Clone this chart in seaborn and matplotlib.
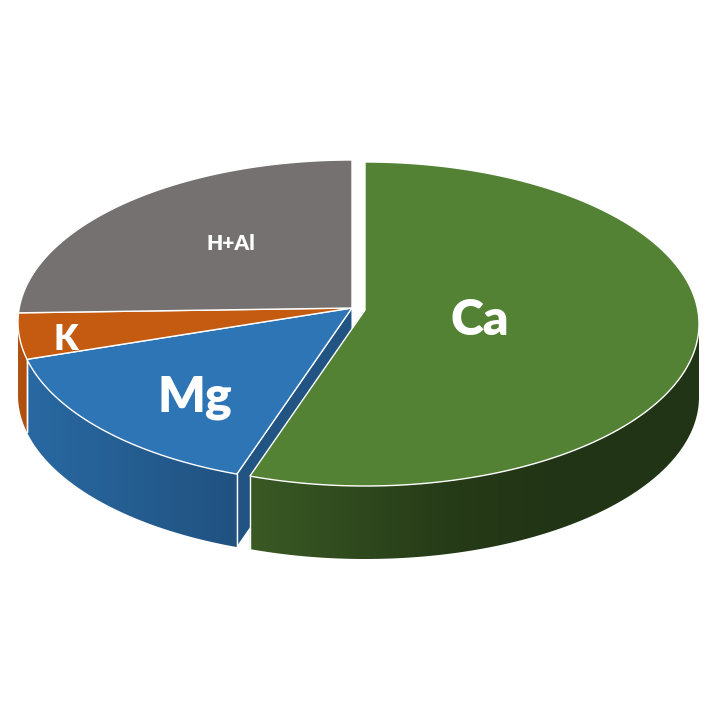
import numpy as np
import matplotlib
matplotlib.use("Agg")
import matplotlib.pyplot as plt
from matplotlib.patches import Polygon
import seaborn as sns

# ---- data ----
categories = ["Ca", "Mg", "K", "H+Al"]
values = [55.6, 15.7, 4.6, 24.1]
colors = ["#548235", "#2E75B6", "#C55A11", "#767171"]
exploded = [True, False, False, False]

# ---- style / layout ----
label_sizes = [36, 36, 25, 15]
label_frac = [0.35, 0.63, 0.86, 0.53]
label_dy = [-4, 13, 7, -10]

sns.set_theme(style="white")
plt.rcParams['font.family'] = ['Lato', 'DejaVu Sans']

fig = plt.figure(figsize=(7.22, 7.22), dpi=100)
ax = fig.add_axes([0, 0, 1, 1])

CX, CY, RX, RY = 352, 322, 334, 162
APEX_DY = -14
DEPTH = 73
EXPL = (13, 2)

fr = np.array(values) / sum(values)
ends = np.cumsum(fr) * 360
starts = np.concatenate([[0], ends[:-1]])


def rim(t, dx=0.0, dy=0.0):
    r = np.radians(t)
    return CX + dx + RX * np.sin(r), CY + dy - RY * np.cos(r)


def shade(x):
    return np.interp(x, [18, 240, 450, 560, 700], [0.90, 0.70, 0.45, 0.40, 0.40])


def rgb(c):
    return np.array(matplotlib.colors.to_rgb(c))


offs = [EXPL if e else (0.0, 0.0) for e in exploded]
n = len(values)

# 1. radial cut faces visible through an exploded gap
for i in range(n):
    dx, dy = offs[i]
    ax0, ay0 = CX + dx, CY + APEX_DY + dy
    for t, nrm, nb in [(starts[i], starts[i] - 90, (i - 1) % n), (ends[i], ends[i] + 90, (i + 1) % n)]:
        if not (exploded[nb] or exploded[i]):
            continue
        if np.cos(np.radians(nrm)) > -0.05:
            continue
        rx_, ry_ = rim(t, dx, dy)
        col = rgb(colors[i]) * 0.72
        ax.fill([ax0, rx_, rx_, ax0], [ay0, ry_, ry_ + DEPTH, ay0 + DEPTH],
                color=col, lw=0.8, ec='white', zorder=1)

# 2. outer side walls (front half) with a horizontal gradient
for i in range(n):
    dx, dy = offs[i]
    a = max(starts[i], 90)
    b = min(ends[i], 270)
    if b <= a:
        continue
    ts = np.linspace(a, b, 400)
    xs, ys = rim(ts, dx, dy)
    verts = np.column_stack([np.concatenate([xs, xs[::-1]]),
                             np.concatenate([ys, ys[::-1] + DEPTH])])
    patch = Polygon(verts, closed=True, fc='none', ec='none', transform=ax.transData)
    ax.add_patch(patch)
    x0, x1 = xs.min() - 2, xs.max() + 2
    y0, y1 = ys.min() - 2, ys.max() + DEPTH + 2
    gx = np.linspace(x0, x1, 300)
    img = np.clip(rgb(colors[i])[None, None, :] * shade(gx)[None, :, None], 0, 1)
    img = np.repeat(img, 2, axis=0)
    im = ax.imshow(img, extent=[x0, x1, y1, y0], aspect='auto',
                   interpolation='bilinear', zorder=2)
    im.set_clip_path(patch)
    for t in (a, b):
        if 90.5 < t < 269.5:
            x, y = rim(t, dx, dy)
            ax.plot([x, x], [y, y + DEPTH], color='white', lw=1.0, zorder=3)

# 3. top faces
for i in range(n):
    dx, dy = offs[i]
    ts = np.linspace(starts[i], ends[i], int((ends[i] - starts[i]) * 2) + 2)
    xs, ys = rim(ts, dx, dy)
    px = np.concatenate([[CX + dx], xs])
    py = np.concatenate([[CY + APEX_DY + dy], ys])
    ax.fill(px, py, color=colors[i], ec='white', lw=1.0, zorder=4)

# 4. labels
for i in range(n):
    dx, dy = offs[i]
    mid = (starts[i] + ends[i]) / 2
    rx_, ry_ = rim(mid, dx, dy)
    ax0, ay0 = CX + dx, CY + APEX_DY + dy
    f = label_frac[i]
    ax.text(ax0 + f * (rx_ - ax0), ay0 + f * (ry_ - ay0) + label_dy[i], categories[i],
            color='white', fontsize=label_sizes[i], fontweight='heavy',
            ha='center', va='center', zorder=5)

ax.set_xlim(0, 722)
ax.set_ylim(722, 0)
ax.axis('off')

fig.savefig("out.png", dpi=100, facecolor='white')
